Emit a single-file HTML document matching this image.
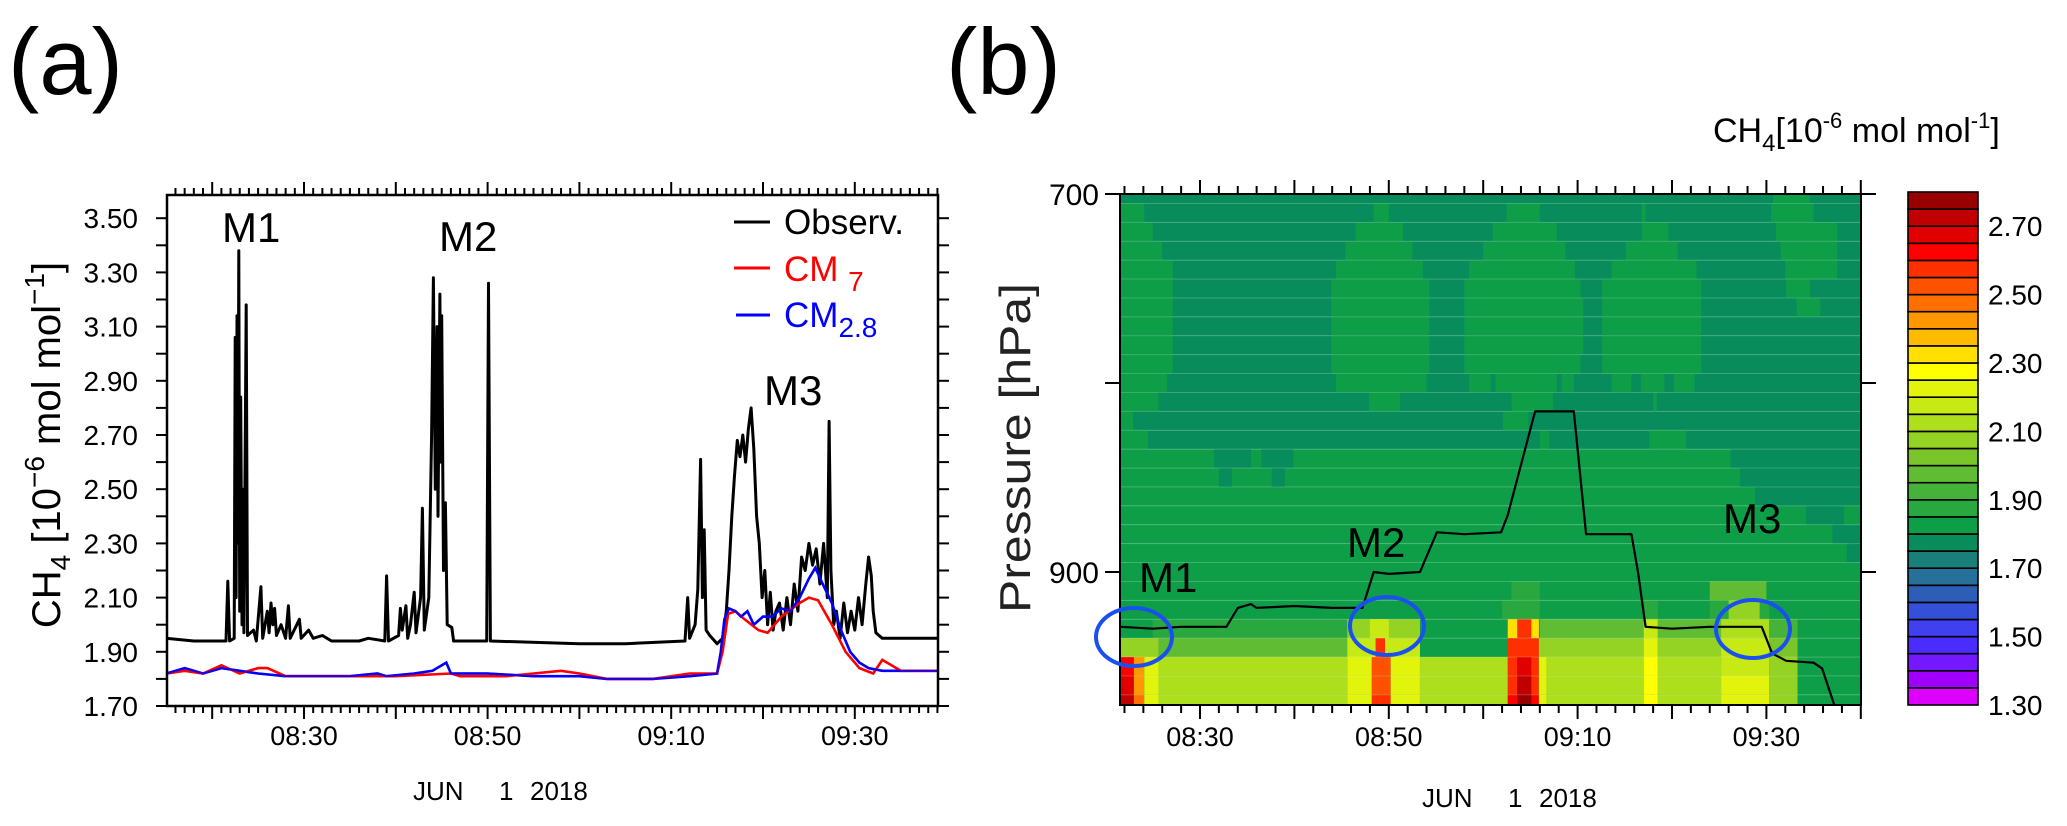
<!DOCTYPE html>
<html>
<head>
<meta charset="utf-8">
<style>
  html,body{margin:0;padding:0;background:#fff;}
  svg{display:block;font-family:"Liberation Sans",sans-serif;}
</style>
</head>
<body>
<svg id="fig" width="2067" height="826" viewBox="0 0 2067 826" xmlns="http://www.w3.org/2000/svg">
  <defs>
    <clipPath id="clipA"><rect x="167" y="195" width="771" height="511"/></clipPath>
    <clipPath id="clipB"><rect x="1120" y="194" width="741" height="511"/></clipPath>
  </defs>

  <text x="8" y="94" font-size="94" fill="#000">(a)</text>
  <text x="946" y="94" font-size="94" fill="#000">(b)</text>

  <g id="panelA">
    <g id="aMarks" clip-path="url(#clipA)"></g>
    <rect x="167" y="195" width="771" height="511" fill="none" stroke="#000" stroke-width="2.5"/>
    <g id="aTicks"></g>
    <text transform="translate(60,445) rotate(-90)" text-anchor="middle" font-size="40" fill="#000">CH<tspan font-size="28" dy="10">4</tspan><tspan dy="-10"> [10</tspan><tspan font-size="28" dy="-16">−6</tspan><tspan dy="16">  mol  mol</tspan><tspan font-size="28" dy="-16">−1</tspan><tspan dy="16">]</tspan></text>
    <text x="413" y="800" font-size="26" fill="#000">JUN</text>
    <text x="499" y="800" font-size="26" fill="#000">1</text>
    <text x="530" y="800" font-size="26" fill="#000">2018</text>

    <text x="222" y="242" font-size="42" fill="#000">M1</text>
    <text x="439" y="251" font-size="42" fill="#000">M2</text>
    <text x="764" y="405" font-size="42" fill="#000">M3</text>

    <g>
      <line x1="734" y1="222" x2="770" y2="222" stroke="#000" stroke-width="3"/>
      <text x="784" y="234" font-size="35" fill="#000">Observ.</text>
      <line x1="734" y1="268" x2="770" y2="268" stroke="#ff0000" stroke-width="3"/>
      <text x="784" y="281" font-size="35" fill="#ff0000">CM <tspan font-size="28" dy="10">7</tspan></text>
      <line x1="736" y1="315" x2="770" y2="315" stroke="#0000ff" stroke-width="3"/>
      <text x="784" y="327" font-size="35" fill="#0000ff">CM<tspan font-size="28" dy="10">2.8</tspan></text>
    </g>
  </g>

  <g id="panelB">
    <g id="bCells" clip-path="url(#clipB)"></g>
    <g id="bLine" clip-path="url(#clipB)"></g>
    <rect x="1120" y="194" width="741" height="511" fill="none" stroke="#000" stroke-width="2"/>
    <g id="bTicks"></g>
    <text transform="translate(1030,448) rotate(-90)" text-anchor="middle" font-size="44" fill="#222" textLength="330" lengthAdjust="spacingAndGlyphs">Pressure [hPa]</text>
    <text x="1422" y="807" font-size="26" fill="#000">JUN</text>
    <text x="1508" y="807" font-size="26" fill="#000">1</text>
    <text x="1539" y="807" font-size="26" fill="#000">2018</text>

    <text x="1139" y="592" font-size="42" fill="#000">M1</text>
    <text x="1347" y="557" font-size="42" fill="#000">M2</text>
    <text x="1723" y="533" font-size="42" fill="#000">M3</text>

    <ellipse cx="1134" cy="637" rx="38" ry="29" fill="none" stroke="#1a50f0" stroke-width="4"/>
    <ellipse cx="1387" cy="626" rx="37" ry="29" fill="none" stroke="#1a50f0" stroke-width="4"/>
    <ellipse cx="1753" cy="629" rx="37" ry="29" fill="none" stroke="#1a50f0" stroke-width="4"/>
  </g>

  <g id="cbar">
    <text x="1713" y="142" font-size="34" fill="#000">CH<tspan font-size="24" dy="9">4</tspan><tspan dy="-9">[10</tspan><tspan font-size="22" dy="-14">-6</tspan><tspan dy="14"> mol  mol</tspan><tspan font-size="22" dy="-14">-1</tspan><tspan dy="14">]</tspan></text>
  </g>
</svg>

<script>
const obsTime = [15,18,21.5,21.7,21.9,22.4,22.5,22.6,22.7,22.8,22.9,23.0,23.1,23.25,23.35,23.45,23.7,23.85,24.5,24.8,25.3,25.5,26.0,26.2,26.4,26.6,26.8,27.0,27.5,28.0,28.3,28.5,29.5,29.7,30.5,31,32,33,36,37,38.8,39.0,39.2,40.3,40.5,40.7,41.1,41.3,41.6,42.0,42.2,42.7,42.9,43.1,43.6,43.9,44.1,44.3,44.5,44.6,44.8,44.9,45.0,45.2,45.4,45.6,46.1,46.3,49.9,50.1,50.3,60,65,71.5,71.8,72.0,72.6,72.9,73.2,73.4,73.6,73.8,74.2,75.0,75.6,76.0,76.3,76.6,76.9,77.2,77.5,77.8,78.1,78.4,78.7,79.0,79.3,79.6,79.9,80.2,80.5,80.8,81.1,81.4,81.8,82.2,82.6,83.0,83.4,83.8,84.2,84.6,85.0,85.4,85.8,86.2,86.6,87.0,87.2,87.4,87.7,88.0,88.4,88.8,89.2,89.6,90.0,90.4,90.8,91.2,91.5,91.8,92.0,92.3,93,95,99];
const obsValue = [1.95,1.94,1.94,2.16,1.94,1.95,3.06,2.10,3.14,2.30,3.38,2.05,2.84,2.00,2.50,1.97,3.18,1.96,1.98,1.94,2.14,1.95,2.05,1.97,2.08,2.00,2.06,1.96,2.00,1.95,2.07,1.95,2.02,1.95,1.98,1.95,1.96,1.94,1.94,1.95,1.94,2.18,1.94,1.96,2.06,1.98,2.07,1.95,2.00,2.12,1.97,2.10,2.43,1.98,2.10,2.70,3.28,2.50,3.10,2.40,3.22,2.60,3.14,2.20,2.45,2.00,1.99,1.94,1.94,3.26,1.94,1.93,1.93,1.94,2.10,1.95,2.00,2.13,2.61,2.10,2.35,1.98,1.96,1.93,1.95,2.05,2.20,2.40,2.55,2.68,2.62,2.70,2.60,2.72,2.80,2.65,2.40,2.30,2.10,2.20,2.00,2.12,1.98,2.05,2.08,1.98,2.10,2.00,2.15,2.05,2.25,2.20,2.30,2.22,2.28,2.15,2.30,2.10,2.75,2.20,2.00,2.05,1.95,2.08,1.97,2.05,1.98,2.10,2.00,2.15,2.25,2.18,2.05,1.97,1.95,1.95,1.95];

const cm7Time = [15,17,19,21,23,25,26,28,30,40,46,47,52,55,58,60,63,68,72,75,75.6,76.2,77,78,79.5,80.5,82,84,85,86,87.5,89,90.5,92,93,94,95,99];
const cm7Value = [1.82,1.83,1.82,1.85,1.82,1.84,1.84,1.81,1.81,1.81,1.82,1.81,1.81,1.82,1.83,1.82,1.80,1.80,1.82,1.82,1.90,2.04,2.05,2.02,1.98,1.97,2.03,2.08,2.10,2.09,2.00,1.90,1.84,1.82,1.87,1.85,1.83,1.83];

const cm28Time = [15,17,19,21,23,25,28,30,35,38,39,42,44,45.5,46,50,55,60,63,68,72,75,75.4,75.8,76.3,77,77.6,78.3,79,80,81,82,83,84,85,85.7,86.5,87.5,88.5,89.5,90.5,91.5,93,99];
const cm28Value = [1.82,1.84,1.82,1.84,1.83,1.82,1.81,1.81,1.81,1.82,1.81,1.82,1.83,1.86,1.82,1.82,1.81,1.81,1.80,1.80,1.81,1.82,1.90,2.02,2.06,2.05,2.03,2.05,2.00,2.03,2.03,2.06,2.05,2.10,2.17,2.21,2.15,2.08,1.98,1.90,1.86,1.84,1.83,1.83];

const yTickValuesA = [1.7,1.8,1.9,2.0,2.1,2.2,2.3,2.4,2.5,2.6,2.7,2.8,2.9,3.0,3.1,3.2,3.3,3.4,3.5];
const yLabelsA = ["1.70","1.90","2.10","2.30","2.50","2.70","2.90","3.10","3.30","3.50"];
const xLabelTimes = [30,50,70,90];
const xLabels = ["08:30","08:50","09:10","09:30"];

const trackTime = [21.6,25,28,32.8,34,35.4,36,40,44,47.2,48.4,50,53.3,55.1,58,61.9,62.6,65.5,69.6,70.9,75.7,76.4,77.2,80,84,89.5,90.6,92.1,95,95.9,97.3,98];
const trackPressure = [929,930,929,929,919,917,919,918,919,919,900,901,900,879,880,879,870,815,815,880,880,900,929,930,929,929,943,947,948,951,972,975];

const pressureTicks = [700,800,900];
const pressureLabels = ["700","","900"];

const cbLevels = [1.30,1.35,1.40,1.45,1.50,1.55,1.60,1.65,1.70,1.75,1.80,1.85,1.90,1.95,2.00,2.05,2.10,2.15,2.20,2.25,2.30,2.35,2.40,2.45,2.50,2.55,2.60,2.65,2.70,2.75,2.80];
const cbColors = ["#dd00ff","#a000ff","#7418ff","#4a2cff","#4040f0","#3450d8","#2c5eb8","#26709a","#1a7f78","#088c5c","#0e9e48","#2aa840","#46b23a","#60bc32","#7ac62a","#94d224","#aedf1c","#c8ea14","#e2f40c","#ffff00","#ffe000","#ffbb00","#ff9800","#ff7000","#ff5200","#ff3000","#ff0000","#e00000","#c00000","#990000"];
const cbLabels = ["1.30","1.50","1.70","1.90","2.10","2.30","2.50","2.70"];

const rowBase = [1.77,1.77,1.77,1.77,1.77,1.77,1.77,1.77,1.77,1.77,1.77,1.77,1.77,1.77,1.82,1.82,1.82,1.82,1.82,1.82,1.82,1.82,1.82,1.82,1.82,1.82,1.82,1.82];
const rowPatches = [
 [[90.7,94.6,1.82]],
 [[21.5,24.1,1.82],[48.4,50.0,1.82],[62.5,66,1.82],[76.8,77.2,1.82],[90.5,95,1.82]],
 [[21.5,25,1.82],[46.5,51.5,1.82],[61,67.8,1.82],[76.8,79.6,1.82],[91,97.5,1.82]],
 [[21.5,26,1.82],[45.4,52.5,1.82],[60,68.7,1.82],[75.1,80.6,1.82],[91.5,97.5,1.82]],
 [[21.5,27.1,1.82],[44.4,53.6,1.82],[58.5,69.7,1.82],[73.6,82.6,1.82],[92,97.5,1.82]],
 [[21.5,27.1,1.82],[43.9,54.3,1.82],[58,70.3,1.82],[72.6,83.1,1.82],[92.1,94.6,1.82]],
 [[21.5,27.1,1.82],[43.9,54.3,1.82],[58,70.6,1.82],[72.6,83.1,1.82],[93.2,95.7,1.82]],
 [[21.5,27.1,1.82],[43.9,54.3,1.82],[58,70.6,1.82],[72.6,83.1,1.82]],
 [[21.5,27.1,1.82],[43.9,54.3,1.82],[58,70.6,1.82],[72.6,83.1,1.82]],
 [[21.5,27.1,1.82],[43.9,54.3,1.82],[58,70.3,1.82],[72.6,83.1,1.82]],
 [[21.5,26.5,1.82],[44.4,54.0,1.82],[58.5,60.8,1.82],[61.3,67.8,1.82],[68.3,69.6,1.82],[73.6,75.7,1.82],[76.7,79.2,1.82],[80.2,82.4,1.82]],
 [[21.5,25.6,1.82],[47.9,51.2,1.82],[63,67.4,1.82],[78,78.4,1.82]],
 [[21.5,22.9,1.82],[62.1,64.8,1.82]],
 [[21.5,24.5,1.82],[66,67,1.82],[77.6,81.5,1.82]],
 [[31.5,35.4,1.77],[36.5,39.9,1.77],[86.2,100.3,1.77]],
 [[32,33.4,1.77],[37.6,39,1.77],[87.2,100.3,1.77]],
 [[88.8,100.3,1.77]],
 [[94.2,98.2,1.77]],
 [[97,100.3,1.77]],
 [[98.5,100.3,1.77]],
 [],
 [[63,66,1.87],[84,90,1.97]],
 [[62,66,1.87],[77,78.5,1.87],[84,86,1.87],[86,89.3,2.07],[89.3,90.3,1.87]],
 [[25,45.6,1.87],[45.6,53.3,2.07],[48,50,2.17],[62.6,65.9,2.32],[63.6,65.1,2.57],[66,77,1.97],[77,78.5,2.17],[78.5,85.2,1.97],[85.2,90.3,2.12],[90.3,93.3,1.92]],
 [[21.5,25.6,2.07],[25.6,45.6,1.97],[45.6,53.3,2.17],[48.6,49.6,2.57],[62.6,65.9,2.57],[65.9,77,2.07],[77,78.5,2.22],[78.5,85.2,2.07],[85.2,90.3,2.17],[90.3,93.3,2.02]],
 [[21.5,23,2.62],[23,24.1,2.42],[24.1,25.6,2.22],[25.6,45.6,2.12],[45.6,48.2,2.22],[48.2,50.2,2.52],[50.2,53.3,2.22],[53.3,62.6,2.12],[62.6,65.9,2.57],[63.6,65.1,2.67],[65.9,66.7,2.22],[66.7,77,2.12],[77,78.5,2.27],[78.5,85.2,2.12],[85.2,90.3,2.17],[90.3,93.3,2.07]],
 [[21.5,23,2.67],[23,24.1,2.42],[24.1,25.6,2.22],[25.6,45.6,2.12],[45.6,48.2,2.22],[48.2,50.2,2.52],[50.2,53.3,2.22],[53.3,62.6,2.12],[62.6,65.9,2.57],[63.6,65.1,2.72],[65.9,66.7,2.22],[66.7,77,2.12],[77,78.5,2.27],[78.5,85.2,2.12],[85.2,90.3,2.22],[90.3,93.3,2.07]],
 [[21.5,23,2.72],[23,24.1,2.47],[24.1,25.6,2.22],[25.6,45.6,2.12],[45.6,48.2,2.22],[48.2,50.2,2.57],[50.2,53.3,2.22],[53.3,62.6,2.12],[62.6,65.9,2.62],[63.6,65.1,2.77],[65.9,66.7,2.22],[66.7,77,2.12],[77,78.5,2.27],[78.5,85.2,2.12],[85.2,90.3,2.22],[90.3,93.3,2.07]]
];

const NS = "http://www.w3.org/2000/svg";
function mk(tag, attrs, parent){
  const el = document.createElementNS(NS, tag);
  for (const k in attrs) el.setAttribute(k, attrs[k]);
  parent.appendChild(el);
  return el;
}
function xa(t){ return 304 + (t - 30) * 9.18; }
function ya(v){ return 706 - (v - 1.70) * 271; }
function xb(t){ return 1200 + (t - 30) * 9.44; }
function yb(p){ return 194 + (p - 700) * 1.89; }
function colorOf(v){
  let i = Math.floor((v - cbLevels[0]) / 0.05 + 1e-6);
  i = Math.max(0, Math.min(cbColors.length - 1, i));
  return cbColors[i];
}
function pathFrom(ts, vs, fx, fy){
  let d = "";
  for (let i = 0; i < ts.length; i++) d += (i ? "L" : "M") + fx(ts[i]).toFixed(1) + "," + fy(vs[i]).toFixed(1);
  return d;
}

const aMarks = document.getElementById("aMarks");
const pObs = mk("path", {d: pathFrom(obsTime, obsValue, xa, ya), fill: "none", stroke: "#000", "stroke-width": 3, "stroke-linejoin": "round"}, aMarks);


const pCm28 = mk("path", {d: pathFrom(cm28Time, cm28Value, xa, ya), fill: "none", stroke: "#0000ff", "stroke-width": 2.6}, aMarks);


const pCm7 = mk("path", {d: pathFrom(cm7Time, cm7Value, xa, ya), fill: "none", stroke: "#ff0000", "stroke-width": 2.6}, aMarks);


const pCm28b = mk("path", {d: pathFrom(cm28Time, cm28Value, xa, ya), fill: "none", stroke: "#0000ff", "stroke-width": 2.2, opacity: 0.85}, aMarks);



const aTicks = document.getElementById("aTicks");
for (let t = 16; t <= 99; t++) {
  const major = (t % 10 === 0);
  const len = major ? 13 : 7;
  const x = xa(t);
  const tb = mk("line", {x1: x, y1: 706, x2: x, y2: 706 + len, stroke: "#000", "stroke-width": 2}, aTicks);
  
  
  const tt = mk("line", {x1: x, y1: 195, x2: x, y2: 195 - len, stroke: "#000", "stroke-width": 2}, aTicks);
  
  
}
for (const v of yTickValuesA) {
  const y = ya(v);
  const tl = mk("line", {x1: 156, y1: y, x2: 167, y2: y, stroke: "#000", "stroke-width": 2}, aTicks);
  
  
  const tr = mk("line", {x1: 938, y1: y, x2: 949, y2: y, stroke: "#000", "stroke-width": 2}, aTicks);
  
  
}
for (const s of yLabelsA) {
  const lb = mk("text", {x: 138, y: ya(parseFloat(s)) + 10, "text-anchor": "end", "font-size": 28, fill: "#000"}, aTicks);
  lb.textContent = s;
  
  
}
for (let i = 0; i < xLabelTimes.length; i++) {
  const lb = mk("text", {x: xa(xLabelTimes[i]), y: 745, "text-anchor": "middle", "font-size": 27, fill: "#000"}, aTicks);
  lb.textContent = xLabels[i];
  
  
}

const bCells = document.getElementById("bCells");
const tMin = 21.5, tMax = 100.3, pMax = 972;
for (let k = 0; k < rowBase.length; k++) {
  const pTop = k === 0 ? 700 : 695 + 10 * k;
  const pBot = Math.min(705 + 10 * k, pMax);
  const y0 = yb(pTop), y1 = yb(pBot);
  const base = mk("rect", {x: xb(tMin), y: y0, width: xb(tMax) - xb(tMin), height: y1 - y0, fill: colorOf(rowBase[k])}, bCells);
  
  
  for (const seg of rowPatches[k]) {
    const c = mk("rect", {x: xb(seg[0]), y: y0, width: xb(seg[1]) - xb(seg[0]), height: y1 - y0, fill: colorOf(seg[2])}, bCells);
    
    
  }
  if (k > 0) {
    const sep = mk("line", {x1: 1120, y1: y0, x2: 1861, y2: y0, stroke: "rgba(255,255,255,0.18)", "stroke-width": 1}, bCells);
    
    
  }
}
const bLine = document.getElementById("bLine");
const track = mk("path", {d: pathFrom(trackTime, trackPressure, xb, yb), fill: "none", stroke: "#000", "stroke-width": 2.2, "stroke-linejoin": "round"}, bLine);



const bTicks = document.getElementById("bTicks");
for (let t = 22; t <= 100; t += 2) {
  const major = (t % 10 === 0);
  const len = major ? 14 : 8;
  const x = xb(t);
  const tb = mk("line", {x1: x, y1: 705, x2: x, y2: 705 + len, stroke: "#000", "stroke-width": 2}, bTicks);
  
  
  const tt = mk("line", {x1: x, y1: 194, x2: x, y2: 194 - len, stroke: "#000", "stroke-width": 2}, bTicks);
  
  
}
for (let i = 0; i < xLabelTimes.length; i++) {
  const lb = mk("text", {x: xb(xLabelTimes[i]), y: 746, "text-anchor": "middle", "font-size": 27, fill: "#000"}, bTicks);
  lb.textContent = xLabels[i];
  
  
}
for (let i = 0; i < pressureTicks.length; i++) {
  const y = yb(pressureTicks[i]);
  const tl = mk("line", {x1: 1105, y1: y, x2: 1120, y2: y, stroke: "#000", "stroke-width": 2}, bTicks);
  
  
  const tr = mk("line", {x1: 1861, y1: y, x2: 1876, y2: y, stroke: "#000", "stroke-width": 2}, bTicks);
  
  
  if (pressureLabels[i]) {
    const lb = mk("text", {x: 1099, y: y + 11, "text-anchor": "end", "font-size": 30, fill: "#000"}, bTicks);
    lb.textContent = pressureLabels[i];
    
    
  }
}

const cbar = document.getElementById("cbar");
const cbTop = 192, cbBot = 705, cbX = 1908, cbW = 70;
const segH = (cbBot - cbTop) / cbColors.length;
for (let i = 0; i < cbColors.length; i++) {
  const y = cbBot - (i + 1) * segH;
  const r = mk("rect", {x: cbX, y: y, width: cbW, height: segH, fill: cbColors[i], stroke: "#000", "stroke-width": 1.6}, cbar);
  
  
}
for (const s of cbLabels) {
  const v = parseFloat(s);
  const y = cbBot - (v - cbLevels[0]) / 0.05 * segH;
  const lb = mk("text", {x: 1988, y: y + 10, "font-size": 28, fill: "#000"}, cbar);
  lb.textContent = s;
  
  
}
</script>
</body>
</html>
